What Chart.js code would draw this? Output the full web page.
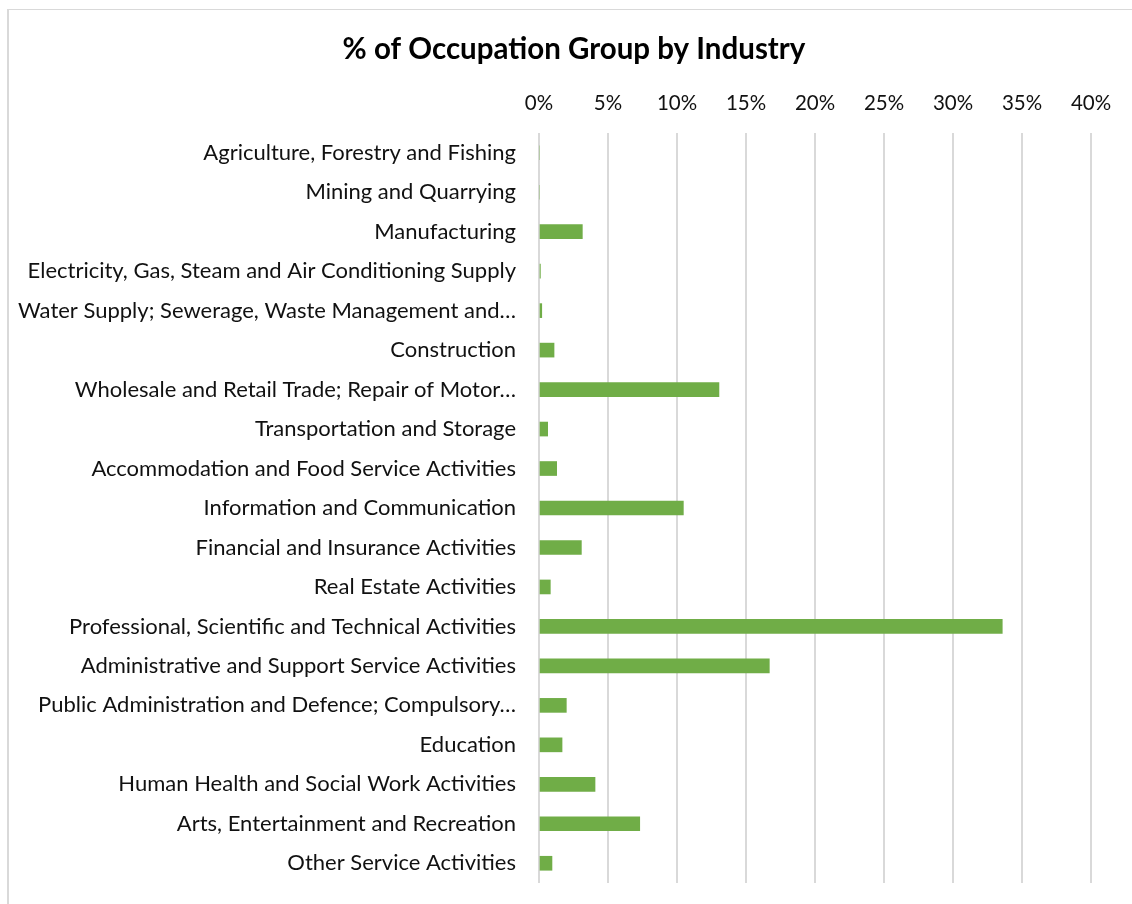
<!DOCTYPE html>
<html>
<head>
<meta charset="utf-8">
<script src="https://cdn.jsdelivr.net/npm/chart.js@4"></script>
<style>
  html, body { margin: 0; padding: 0; background: #fff; }
  #wrap { position: relative; width: 1132px; height: 904px; overflow: hidden; }
  #frame { position: absolute; left: 7px; top: 9px; width: 1200px; height: 1000px;
           border-left: 2px solid #d9d9d9; border-top: 1px solid #d9d9d9; box-sizing: border-box; }
  canvas { position: absolute; left: 0; top: 0; }
</style>
</head>
<body>
<div id="wrap">
  <div id="frame"></div>
  <canvas id="c" width="1132" height="904"></canvas>
</div>
<script>
const chartTitle = "% of Occupation Group by Industry";
const categories = [
  "Agriculture, Forestry and Fishing",
  "Mining and Quarrying",
  "Manufacturing",
  "Electricity, Gas, Steam and Air Conditioning Supply",
  "Water Supply; Sewerage, Waste Management and\u2026",
  "Construction",
  "Wholesale and Retail Trade; Repair of Motor\u2026",
  "Transportation and Storage",
  "Accommodation and Food Service Activities",
  "Information and Communication",
  "Financial and Insurance Activities",
  "Real Estate Activities",
  "Professional, Scientific and Technical Activities",
  "Administrative and Support Service Activities",
  "Public Administration and Defence; Compulsory\u2026",
  "Education",
  "Human Health and Social Work Activities",
  "Arts, Entertainment and Recreation",
  "Other Service Activities"
];
const shareValues = [
  0.000, 0.000, 0.0314, 0.001, 0.002, 0.0109, 0.1304, 0.0063, 0.0128, 0.1046,
  0.0307, 0.0082, 0.3357, 0.1669, 0.0198, 0.0167, 0.0406, 0.0730, 0.0094
];
const xTickValues = [0, 0.05, 0.10, 0.15, 0.20, 0.25, 0.30, 0.35, 0.40];

const FONT = "Lato, 'Open Sans', sans-serif";

const shiftTitle = {
  id: 'shiftTitle',
  afterLayout(chart) {
    const t = chart.titleBlock;
    if (t) { t.left = 57; t.width = t.right - t.left; }
  }
};

new Chart(document.getElementById('c'), {
  type: 'bar',
  data: {
    labels: categories,
    datasets: [{
      data: shareValues,
      backgroundColor: '#70ad47',
      borderWidth: 0,
      barThickness: 14
    }]
  },
  plugins: [shiftTitle],
  options: {
    indexAxis: 'y',
    responsive: false,
    animation: false,
    layout: { padding: { top: 32, right: 41, bottom: 21, left: 0 } },
    plugins: {
      legend: { display: false },
      tooltip: { enabled: false },
      title: {
        display: true,
        text: chartTitle,
        color: '#000',
        font: { family: FONT, size: 29.5, weight: 'bold', lineHeight: 1.2 },
        padding: 0
      }
    },
    scales: {
      x: {
        position: 'top',
        min: 0,
        max: 0.4,
        afterBuildTicks: (scale) => { scale.ticks = xTickValues.map(v => ({ value: v })); },
        afterFit: (scale) => { scale.height = 65.6; },
        ticks: {
          color: '#111',
          padding: 17.7,
          font: { family: FONT, size: 20.5 },
          callback: (v) => Math.round(v * 100) + '%'
        },
        grid: { color: '#d9d9d9', lineWidth: 2, drawTicks: false },
        border: { display: false }
      },
      y: {
        afterFit: (scale) => { scale.width = 539; scale.paddingTop = 0; scale.paddingBottom = 0; },
        ticks: {
          color: '#111',
          padding: 23,
          font: { family: FONT, size: 22 },
          autoSkip: false
        },
        grid: { display: false, drawTicks: false },
        border: { display: false }
      }
    }
  }
});
</script>
</body>
</html>
